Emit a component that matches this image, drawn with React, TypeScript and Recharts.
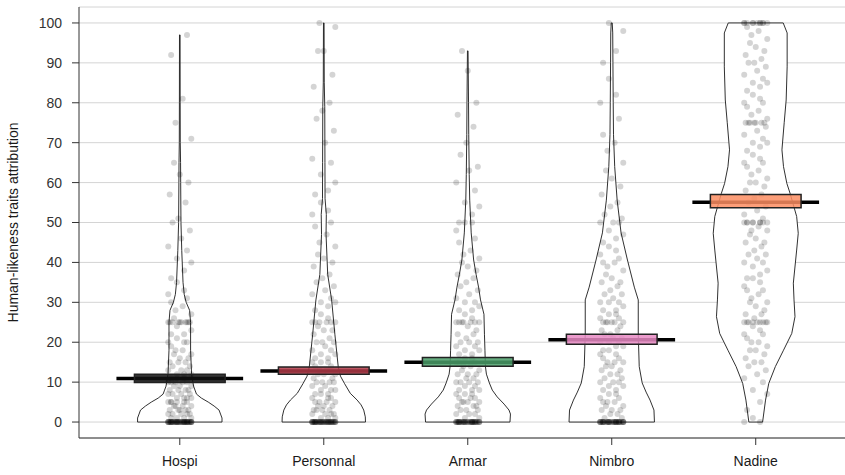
import React from 'react';
import {
  ComposedChart,
  Scatter,
  XAxis,
  YAxis,
  CartesianGrid,
  ReferenceLine,
  ReferenceArea,
} from 'recharts';

// groups shown on the x axis
const categories = ['Hospi', 'Personnal', 'Armar', 'Nimbro', 'Nadine'];

// mean and confidence interval per group
const means = [10.9, 12.8, 15.0, 20.6, 55.1];
const ciLow = [9.9, 12.0, 14.0, 19.5, 53.7];
const ciHigh = [12.0, 13.8, 16.2, 22.0, 57.0];
const boxColors = ['#111111', '#b03a48', '#4a9e68', '#e78ac3', '#fc8d62'];

const yTicks = [0, 10, 20, 30, 40, 50, 60, 70, 80, 90, 100];

// violin outlines: [score, density]
const hospiDensity: [number, number][] = [
  [0, 43], [1, 43], [2, 41.5], [3, 40], [4, 35], [5, 29], [6, 22], [7, 17], [8, 15.5],
  [9, 14], [12, 12], [18, 11], [25, 11], [28, 10], [30, 6.5], [32, 4.5], [35, 3.3],
  [43, 2], [50, 1.2], [60, 0.9], [65, 0.8], [70, 0.5], [80, 0.4], [97, 0.3],
];
const personnalDensity: [number, number][] = [
  [0, 42.5], [1.3, 42.3], [3, 40.7], [4.3, 38], [5.5, 34], [7.2, 27], [9.7, 21], [11.5, 17],
  [13.9, 14.7], [22, 11.3], [30.6, 8], [37, 4], [47, 2.3], [52, 2.6], [56, 1.3], [65, 1.2],
  [79, 1], [85, 0.5], [100, 0.3],
];
const armarDensity: [number, number][] = [
  [0, 43], [2, 43.5], [3, 42], [4.5, 37], [6.3, 30], [8, 25], [9.8, 22], [12, 19], [13.9, 18],
  [18, 17.5], [22, 17], [27, 16.5], [30.6, 13], [33.8, 11], [37, 8.5], [40.6, 6], [47.4, 3.5],
  [55.6, 2], [62, 1.5], [72, 1], [80, 0.8], [93, 0.3],
];
const nimbroDensity: [number, number][] = [
  [0, 43.5], [3, 43], [5.5, 39], [7.5, 35], [9.8, 31], [13.9, 28], [22, 27], [30.6, 27],
  [33.8, 23], [40.6, 16], [47.4, 9.5], [55.6, 5.5], [64, 3], [72, 1.8], [80, 1.5], [90, 1.2],
  [97.5, 1], [100, 0.5],
];
const nadineDensity: [number, number][] = [
  [0, 7], [5.5, 10], [9.7, 13.3], [13.9, 20], [18, 28.3], [22.2, 36.7], [26.4, 40], [30.6, 39],
  [34.8, 38.3], [43.1, 41.7], [47.3, 43.3], [51.5, 41.7], [57.3, 35], [59.8, 31.7], [64, 28.3],
  [68.2, 26.7], [75, 29], [80.7, 31], [89, 32], [97.5, 32], [100, 28],
];

// individual answers (jittered dots)
const hospiScores = [
  0, 0, 0, 0, 0, 0, 0, 0, 0, 0, 0, 0, 0, 0, 0, 0, 0, 0, 0, 0, 0, 0, 0, 0, 0, 0, 0, 0,
  0, 0, 0, 0, 0, 0, 0, 0, 0, 0, 0, 0, 0, 0, 0, 0, 0, 0,
  1, 1, 1, 1, 2, 2, 2, 2, 2, 3, 3, 3, 3, 3, 4, 4, 4, 4, 5, 5, 5, 5, 5, 5, 6, 6, 6, 6, 7, 7, 7, 7,
  8, 8, 8, 8, 9, 9, 9, 10, 10, 10, 10, 10, 11, 11, 11, 12, 12, 12, 13, 13, 13, 14, 14, 15, 15, 15,
  16, 16, 17, 17, 18, 18, 19, 20, 20, 20, 21, 22, 22, 23, 24, 25, 25, 25, 25, 25, 25, 25, 25, 25,
  25, 26, 27, 28, 29, 30, 31, 32, 33, 35, 36, 38, 40, 41, 43, 44, 46, 48, 50, 51, 55, 57, 60, 62,
  65, 71, 75, 81, 92, 97,
];
const personnalScores = [
  0, 0, 0, 0, 0, 0, 0, 0, 0, 0, 0, 0, 0, 0, 0, 0, 0, 0, 0, 0, 0, 0, 0, 0, 0,
  0, 0, 0, 0, 0, 0, 0, 0, 0, 0, 0, 0, 0, 0, 0, 0, 0,
  1, 1, 1, 2, 2, 2, 2, 3, 3, 3, 3, 4, 4, 4, 5, 5, 5, 5, 6, 6, 6, 7, 7, 7, 8, 8, 8, 9, 9, 10, 10, 10,
  10, 11, 11, 12, 12, 12, 13, 13, 14, 14, 15, 15, 15, 16, 16, 17, 17, 18, 18, 19, 20, 20, 20, 21, 22,
  23, 23, 24, 25, 25, 25, 25, 25, 25, 26, 27, 28, 29, 30, 30, 31, 32, 33, 34, 35, 36, 37, 39, 40, 41,
  42, 44, 45, 47, 49, 50, 52, 53, 55, 57, 58, 60, 62, 65, 66, 70, 73, 76, 78, 80, 84, 87, 93, 93, 99, 100,
];
const armarScores = [
  0, 0, 0, 0, 0, 0, 0, 0, 0, 0, 0, 0, 0, 0, 0, 0, 0, 0, 0, 0, 0, 0,
  0, 0, 0, 0, 0, 0, 0, 0, 0, 0, 0, 0, 0, 0, 0, 0,
  1, 1, 2, 2, 2, 3, 3, 3, 4, 4, 4, 5, 5, 5, 5, 6, 6, 6, 7, 7, 7, 8, 8, 8, 9, 9, 10, 10, 10, 10, 11, 11,
  12, 12, 12, 13, 13, 14, 14, 15, 15, 15, 16, 16, 17, 17, 18, 18, 19, 19, 20, 20, 20, 21, 22, 22, 23,
  24, 25, 25, 25, 25, 25, 25, 25, 26, 27, 28, 28, 29, 30, 30, 31, 32, 33, 34, 35, 36, 37, 38, 39, 40,
  41, 42, 43, 45, 46, 48, 50, 50, 50, 52, 54, 55, 58, 60, 63, 64, 67, 70, 74, 77, 80, 88, 93,
];
const nimbroScores = [
  0, 0, 0, 0, 0, 0, 0, 0, 0, 0, 0, 0, 0, 0, 0, 0, 0, 0, 0, 0, 0, 0,
  0, 0, 0, 0, 0, 0, 0, 0, 0, 0, 0, 0, 0, 0, 0, 0,
  1, 1, 2, 2, 3, 3, 3, 4, 4, 5, 5, 5, 6, 6, 7, 7, 8, 8, 9, 9, 10, 10, 10, 11, 11, 12, 12, 13, 13, 14,
  14, 15, 15, 15, 16, 16, 17, 17, 18, 18, 19, 19, 20, 20, 20, 21, 21, 22, 22, 23, 23, 24, 25, 25, 25,
  25, 25, 25, 26, 26, 27, 27, 28, 28, 29, 30, 30, 30, 31, 32, 32, 33, 34, 35, 35, 36, 37, 38, 39, 40,
  40, 41, 42, 43, 44, 45, 46, 47, 48, 50, 50, 50, 51, 52, 54, 55, 57, 59, 61, 63, 65, 68, 70, 72, 76,
  80, 82, 86, 90, 93, 98, 100,
];
const nadineScores = [
  0, 0, 1, 3, 5, 7, 8, 10, 11, 12, 13, 14, 15, 15, 16, 17, 18, 18, 19, 20, 20, 21, 22, 22, 23, 24,
  25, 25, 25, 25, 25, 25, 25, 25, 25, 26, 27, 27, 28, 29, 30, 30, 31, 32, 33, 33, 34, 35, 36, 36, 37,
  38, 39, 40, 40, 41, 42, 42, 43, 44, 45, 45, 46, 47, 48, 48, 49, 50, 50, 50, 50, 50, 50, 50, 50, 50,
  51, 52, 53, 54, 55, 56, 57, 58, 59, 60, 60, 61, 62, 63, 64, 65, 65, 66, 67, 68, 69, 70, 70, 71, 72,
  73, 74, 75, 75, 75, 75, 75, 75, 75, 76, 77, 78, 79, 80, 80, 81, 82, 83, 84, 85, 85, 86, 87, 88, 89,
  90, 90, 91, 92, 93, 94, 95, 96, 97, 98, 99, 100, 100, 100, 100, 100, 100, 100, 100, 100, 100, 100,
];

// horizontal jitter of the dots, in category units
const jitter = [
  -0.06, 0.03, 0.08, -0.02, 0.05, -0.08, 0.01, 0.07, -0.05, -0.01, 0.04, -0.07,
  0.06, 0.0, -0.04, 0.08, -0.03, 0.02, -0.06, 0.05, -0.08, 0.03, -0.02,
];

const densities = [hospiDensity, personnalDensity, armarDensity, nimbroDensity, nadineDensity];
const scores = [hospiScores, personnalScores, armarScores, nimbroScores, nadineScores];

const VIOLIN_SCALE = 0.3 / 44;

// outline: up the right side, back down the left side
const violinData = (gi: number) => {
  const c = gi + 1;
  const d = densities[gi];
  const right = d.map(([y, w]) => ({ x: c + w * VIOLIN_SCALE, y }));
  const left = [...d].reverse().map(([y, w]) => ({ x: c - w * VIOLIN_SCALE, y }));
  return [...right, ...left];
};

const pointData = scores.flatMap((list, gi) =>
  list.map((y, i) => ({ x: gi + 1 + jitter[(i + gi * 5) % jitter.length], y }))
);

const ViolinPath = (props: any) => {
  const pts = props.points || [];
  if (!pts.length) return <g />;
  const d = pts.map((p: any, i: number) => `${i ? 'L' : 'M'}${p.x},${p.y}`).join(' ') + ' Z';
  return <path d={d} fill="#ffffff" stroke="#1a1a1a" strokeWidth={0.9} />;
};

const Dot = (props: any) => (
  <circle cx={props.cx} cy={props.cy} r={3} fill="#000000" fillOpacity={0.17} />
);

const App = () => {
  return (
    <div style={{ position: 'absolute', left: 0, top: 0, width: 845, height: 475 }}>
      <ComposedChart
        width={845}
        height={475}
        margin={{ top: 7, right: 0, bottom: 0, left: 0 }}
        style={{ fontFamily: '"Liberation Sans", Arial, sans-serif' }}
      >
        <CartesianGrid horizontal vertical={false} stroke="#d4d4d4" strokeWidth={1} />
        <XAxis
          xAxisId="top"
          orientation="top"
          type="number"
          domain={[0, 1]}
          height={0}
          tick={false}
          tickLine={false}
          axisLine={{ stroke: '#333333' }}
        />
        <XAxis
          type="number"
          dataKey="x"
          domain={[0.3, 5.62]}
          allowDataOverflow
          ticks={[1, 2, 3, 4, 5]}
          interval={0}
          tickFormatter={(v) => categories[v - 1]}
          height={37}
          tickSize={7}
          tickMargin={11}
          axisLine={{ stroke: '#333333' }}
          tickLine={{ stroke: '#333333' }}
          tick={{ fill: '#1a1a1a', fontSize: 14 }}
        />
        <YAxis
          type="number"
          dataKey="y"
          domain={[-4, 104]}
          allowDataOverflow
          ticks={yTicks}
          interval={0}
          width={79}
          tickSize={7}
          tickMargin={10}
          axisLine={{ stroke: '#333333' }}
          tickLine={{ stroke: '#333333' }}
          tick={{ fill: '#333333', fontSize: 14 }}
          label={{
            value: 'Human-likeness traits attribution',
            angle: -90,
            position: 'insideLeft',
            offset: 13,
            textAnchor: 'middle',
            style: { fill: '#1a1a1a', fontSize: 14, textAnchor: 'middle' },
          }}
        />
        {categories.map((name, gi) => (
          <Scatter
            key={name}
            name={name}
            data={violinData(gi)}
            line={ViolinPath}
            shape={() => <g />}
            isAnimationActive={false}
          />
        ))}
        <Scatter name="answers" data={pointData} shape={Dot} isAnimationActive={false} />
        {categories.map((name, gi) => (
          <ReferenceLine
            key={'m' + name}
            segment={[
              { x: gi + 1 - 0.44, y: means[gi] },
              { x: gi + 1 + 0.44, y: means[gi] },
            ]}
            stroke="#000000"
            strokeWidth={3.5}
            zIndex={1000}
          />
        ))}
        {categories.map((name, gi) => (
          <ReferenceArea
            key={'ci' + name}
            x1={gi + 1 - 0.315}
            x2={gi + 1 + 0.315}
            y1={ciLow[gi]}
            y2={ciHigh[gi]}
            fill={boxColors[gi]}
            fillOpacity={0.85}
            stroke="#222222"
            strokeWidth={1.5}
            zIndex={1001}
          />
        ))}
      </ComposedChart>
    </div>
  );
};

export default App;
